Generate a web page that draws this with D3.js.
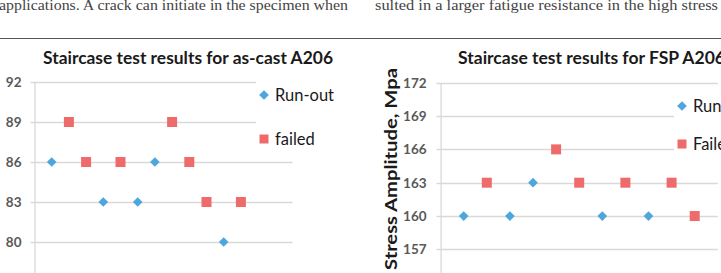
<!DOCTYPE html>
<html><head><meta charset="utf-8">
<script src="https://cdn.jsdelivr.net/npm/d3@7"></script>
<style>body{margin:0;background:#fff}svg{display:block}</style>
</head><body>
<svg id="c" width="721" height="273"></svg>
<script>
// ---- data ----
const leftTitle = "Staircase test results for as-cast A206";
const rightTitle = "Staircase test results for FSP A206";
const yTitle = "Stress Amplitude, Mpa";
const leftTicks = [80, 83, 86, 89, 92];
const rightTicks = [157, 160, 163, 166, 169, 172];
// specimen order 1..n, stress level, outcome
const leftStress = [86, 89, 86, 83, 86, 83, 86, 89, 86, 83, 80, 83];
const leftOutcome = ["R","F","F","R","F","R","R","F","F","F","R","F"];
const rightStress = [160, 163, 160, 163, 166, 163, 160, 163, 160, 163, 160];
const rightOutcome = ["R","F","R","R","F","F","R","F","R","F","F"];
const leftLegend = ["Run-out", "failed"];
const rightLegend = ["Run-out", "Failed"];
const textLeft = "applications. A crack can initiate in the specimen when";
const textRight = "sulted in a larger fatigue resistance in the high stress";

const BLUE = "#4ea7dc", RED = "#ef6b6b", GRID = "#d9d9d9", LBL = "#595959";
const svg = d3.select("#c");

// page text
svg.append("text").attr("x", -1).attr("y", 10).attr("font-family", "Liberation Serif, serif")
  .attr("font-size", 15.5).attr("fill", "#444").attr("textLength", 349).attr("lengthAdjust", "spacingAndGlyphs").text(textLeft);
svg.append("text").attr("x", 375).attr("y", 10).attr("font-family", "Liberation Serif, serif")
  .attr("font-size", 15.5).attr("fill", "#444").attr("textLength", 343).attr("lengthAdjust", "spacingAndGlyphs").text(textRight);
svg.append("line").attr("x1", 0).attr("x2", 721).attr("y1", 38.5).attr("y2", 38.5).attr("stroke", "#555").attr("stroke-width", 1.2);

function chart(cfg) {
  const g = svg.append("g");
  const x = d3.scaleLinear().domain(cfg.xDomain).range(cfg.xRange);
  const y = d3.scaleLinear().domain(cfg.yDomain).range(cfg.yRange);
  // gridlines
  g.selectAll(".grid").data(cfg.ticks).join("line")
    .attr("x1", cfg.xRange[0] - 4).attr("x2", cfg.xRange[1])
    .attr("y1", d => Math.round(y(d)) + 0.5).attr("y2", d => Math.round(y(d)) + 0.5)
    .attr("stroke", GRID).attr("stroke-width", 1.3);
  // y axis
  const ax = g.append("g").attr("transform", `translate(${cfg.xRange[0]},0)`)
    .call(d3.axisLeft(y).tickValues(cfg.ticks).tickSize(0).tickPadding(cfg.pad));
  ax.select(".domain").attr("stroke", GRID).attr("stroke-width", 1.3);
  ax.selectAll("text").attr("font-family", "Lato, sans-serif").attr("font-size", 13.5).attr("fill", LBL).attr("font-weight", "bold");
  // title
  g.append("text").attr("x", cfg.titleX).attr("y", 64).attr("font-family", "Lato, sans-serif")
    .attr("font-weight", "bold").attr("font-size", 16.5).attr("fill", "#1a1a1a")
    .attr("textLength", cfg.titleLen).attr("lengthAdjust", "spacingAndGlyphs").text(cfg.title);
  // y title
  g.append("text").attr("transform", `translate(${cfg.yTitleX},${cfg.yTitleY}) rotate(-90)`)
    .attr("text-anchor", "middle").attr("font-family", "Lato, sans-serif").attr("font-weight", "bold")
    .attr("font-size", 17).attr("fill", "#1a1a1a").attr("textLength", 202).attr("lengthAdjust", "spacingAndGlyphs").text(yTitle);
  // legend background
  g.append("rect").attr("x", cfg.legX - 8).attr("y", cfg.legY - 14).attr("width", 80).attr("height", 60).attr("fill", "#fff");
  // points
  const pts = cfg.stress.map((s, i) => ({i: i + 1, s, o: cfg.outcome[i]}));
  const diamond = d3.symbol().type(d3.symbolDiamond2).size(cfg.dSize);
  g.selectAll(".r").data(pts.filter(d => d.o === "R")).join("path")
    .attr("d", diamond).attr("fill", BLUE)
    .attr("transform", d => `translate(${x(d.i)},${y(d.s)})`);
  g.selectAll(".f").data(pts.filter(d => d.o === "F")).join("rect")
    .attr("x", d => x(d.i) - cfg.sq / 2).attr("y", d => y(d.s) - cfg.sq / 2)
    .attr("width", cfg.sq).attr("height", cfg.sq).attr("fill", RED);
  // legend
  g.append("path").attr("d", diamond).attr("fill", BLUE).attr("transform", `translate(${cfg.legX},${cfg.legY})`);
  g.append("rect").attr("x", cfg.legX - 4.5).attr("y", cfg.legY + cfg.legGap - 4.5).attr("width", 9).attr("height", 9).attr("fill", RED);
  cfg.legend.forEach((t, k) => {
    g.append("text").attr("x", cfg.legX + 11).attr("y", cfg.legY + k * cfg.legGap + 5.5)
      .attr("font-family", "Lato, sans-serif").attr("font-size", 16.5).attr("fill", "#1a1a1a").text(t);
  });
}

chart({
  xDomain: [0, 15], xRange: [34.5, 292.5],
  yDomain: [77, 92], yRange: [282, 82],
  ticks: leftTicks, pad: 13, stress: leftStress, outcome: leftOutcome,
  title: leftTitle, titleX: 43, titleLen: 290, yTitleX: -6, yTitleY: 160,
  legX: 264, legY: 95, legGap: 44, legend: leftLegend, dSize: 60, sq: 10
});
chart({
  xDomain: [0, 12], xRange: [440.6, 717.8],
  yDomain: [154, 172], yRange: [282.7, 82.7],
  ticks: rightTicks, pad: 14, stress: rightStress, outcome: rightOutcome,
  title: rightTitle, titleX: 458, titleLen: 267, yTitleX: 397, yTitleY: 169,
  legX: 682, legY: 106, legGap: 38, legend: rightLegend, dSize: 60, sq: 10
});
</script>
</body></html>
